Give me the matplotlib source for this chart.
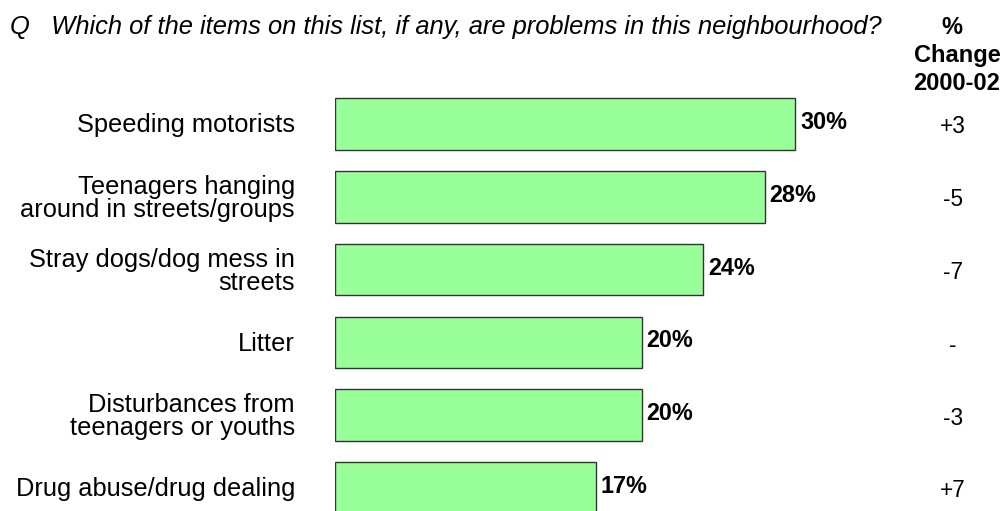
import numpy as np
import matplotlib.pyplot as plt
from matplotlib.transforms import blended_transform_factory

plt.rcParams['font.family'] = ['Liberation Sans', 'DejaVu Sans']

# survey items, share naming each a problem, and change since 2000
items = [
    "Speeding motorists",
    "Teenagers hanging\naround in streets/groups",
    "Stray dogs/dog mess in\nstreets",
    "Litter",
    "Disturbances from\nteenagers or youths",
    "Drug abuse/drug dealing",
]
percent = [30, 28, 24, 20, 20, 17]
change = ["+3", "-5", "-7", "-", "-3", "+7"]

W, H = 1002, 511
fig = plt.figure(figsize=(W / 100, H / 100), dpi=100)

# axes placed in pixel terms: bars start at x=335, one percent ~15.35 px
ax_left, ax_width = 335, 600
px_per_unit_y = 72.8
y0_px = 124  # centre of first bar, from top
top_px = 60
ax = fig.add_axes([ax_left / W, 0, ax_width / W, (H - top_px) / H])
ax.set_xlim(0, ax_width / 15.35)
ax.set_ylim((H - y0_px) / px_per_unit_y, (top_px - y0_px) / px_per_unit_y)
ax.axis('off')

y = np.arange(len(items))
ax.barh(y, percent, height=0.71, color='#99ff99', edgecolor='#333333',
        linewidth=1.0, align='center')

for yi, p in zip(y, percent):
    ax.text(p + 0.3, yi - 0.02, f"{p}%", ha='left', va='center',
            fontsize=16.8, fontweight='bold')

# category labels and change column, y in data, x in figure
trans = blended_transform_factory(fig.transFigure, ax.transData)
for yi, name in zip(y, items):
    ax.text(295 / W, yi + 0.02, name, transform=trans, ha='right', va='center',
            multialignment='right', fontsize=18.3, linespacing=0.95)
for yi, c in zip(y, change):
    ax.text(953 / W, yi + 0.04, c, transform=trans, ha='center', va='center',
            fontsize=16.3)

fig.text(10 / W, 1 - 27 / H,
         "Q   Which of the items on this list, if any, are problems in this neighbourhood?",
         ha='left', va='center', fontsize=18.4, style='italic')
fig.text(952 / W, 1 - 27 / H, "%", ha='center', va='center',
         fontsize=17, fontweight='bold')
fig.text(957 / W, 1 - 55 / H, "Change", ha='center', va='center',
         fontsize=17, fontweight='bold')
fig.text(957 / W, 1 - 83 / H, "2000-02", ha='center', va='center',
         fontsize=17, fontweight='bold')

fig.savefig('out.png', dpi=100, facecolor='white')
